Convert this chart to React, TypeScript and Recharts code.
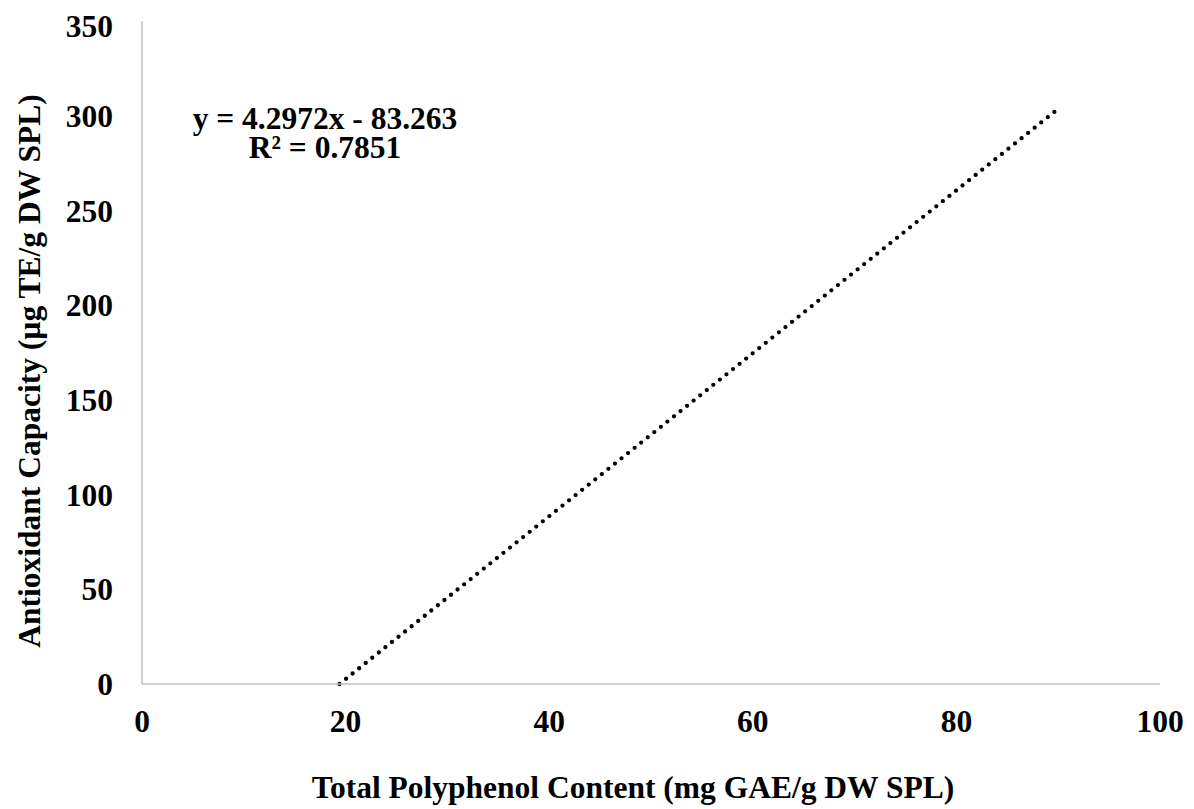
import React from 'react';
import { LineChart, Line, XAxis, YAxis } from 'recharts';

// trendline end points
const trendX = [19.4, 90.2];
const trendY = [0, 304.5];

const xTicks = [0, 20, 40, 60, 80, 100];
const yTicks = [0, 50, 100, 150, 200, 250, 300, 350];

const equation = 'y = 4.2972x - 83.263';
const rSquared = 'R² = 0.7851';
const xTitle = 'Total Polyphenol Content (mg GAE/g DW SPL)';
const yTitle = 'Antioxidant Capacity (µg TE/g DW SPL)';

const data = trendX.map((x, i) => ({ x, y: trendY[i] }));

const FONT = '"Liberation Serif", "Times New Roman", serif';
const AXIS_COLOR = '#BFBFBF';
const W = 1186;
const H = 801;

const tickStyle = { fill: '#000', fontSize: 31.5, fontWeight: 700, fontFamily: FONT };

const App: React.FC = () => {
  return (
    <div style={{ position: 'relative', width: W, height: H }}>
      <LineChart width={W} height={H} data={data} margin={{ top: 13, right: 34, left: 0, bottom: 0 }}>
        <XAxis
          dataKey="x"
          type="number"
          domain={[0, 100]}
          ticks={xTicks}
          height={125}
          tickLine={false}
          tickSize={0}
          tickMargin={26}
          stroke={AXIS_COLOR}
          strokeWidth={1.5}
          tick={tickStyle}
        />
        <YAxis
          type="number"
          domain={[0, 350]}
          ticks={yTicks}
          width={134}
          tickLine={false}
          tickSize={0}
          tickMargin={29}
          stroke={AXIS_COLOR}
          strokeWidth={1.5}
          tick={tickStyle}
        />
        <Line
          dataKey="y"
          stroke="#000"
          strokeWidth={4.3}
          strokeDasharray="0 8.4"
          strokeLinecap="round"
          dot={false}
          activeDot={false}
          isAnimationActive={false}
        />
      </LineChart>
      <svg
        width={W}
        height={H}
        style={{ position: 'absolute', left: 0, top: 0, pointerEvents: 'none' }}
        fontFamily={FONT}
        fontWeight={700}
        fontSize={31.5}
      >
        <text x={317} y={121} textAnchor="middle">{equation}</text>
        <text x={317} y={150} textAnchor="middle">{rSquared}</text>
        <text x={625} y={790} textAnchor="middle">{xTitle}</text>
        <text x={0} y={0} textAnchor="middle" transform="translate(32 363) rotate(-90)">{yTitle}</text>
      </svg>
    </div>
  );
};

export default App;
